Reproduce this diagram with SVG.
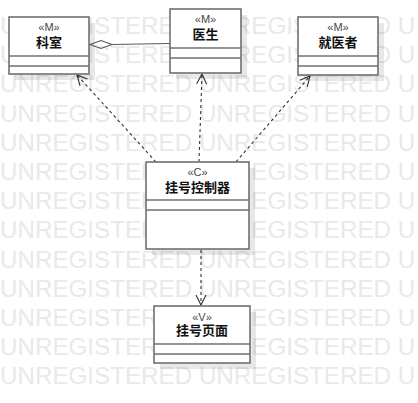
<svg xmlns="http://www.w3.org/2000/svg" width="418" height="403" viewBox="0 0 418 403">
<style>
.wm{font-family:"Liberation Sans",Arial,sans-serif;font-size:24.2px;fill:#e9e9e9}
.shadow{fill:#000;fill-opacity:0.09}
.box{fill:#fff;stroke:#707070;stroke-width:1.6}
.sep{stroke:#707070;stroke-width:1.6}
.st{font-family:"Liberation Sans","Noto Sans CJK SC",sans-serif;font-size:11px;fill:#444;text-anchor:middle}
.nm{font-family:"Liberation Sans","Noto Sans CJK SC",sans-serif;font-size:13px;font-weight:bold;fill:#111;text-anchor:middle}
.dep{fill:none;stroke:#333;stroke-width:1.1;stroke-dasharray:3 3}
.agg{fill:none;stroke:#555;stroke-width:1.1}
</style>
<defs>
<marker id="open" markerUnits="userSpaceOnUse" markerWidth="14" markerHeight="14" viewBox="-12 -7 14 14" refX="0" refY="0" orient="auto">
<path d="M -10 -5 L 0 0 L -10 5" fill="none" stroke="#333" stroke-width="1.1"/>
</marker>
</defs>
<rect width="418" height="403" fill="#fff"/>
<g id="watermark">
<text class="wm" x="0" y="34">UNREGISTERED UNREGISTERED U</text>
<text class="wm" x="0" y="63.2">UNREGISTERED UNREGISTERED U</text>
<text class="wm" x="0" y="92.4">UNREGISTERED UNREGISTERED U</text>
<text class="wm" x="0" y="121.6">UNREGISTERED UNREGISTERED U</text>
<text class="wm" x="0" y="150.8">UNREGISTERED UNREGISTERED U</text>
<text class="wm" x="0" y="180">UNREGISTERED UNREGISTERED U</text>
<text class="wm" x="0" y="209.2">UNREGISTERED UNREGISTERED U</text>
<text class="wm" x="0" y="238.4">UNREGISTERED UNREGISTERED U</text>
<text class="wm" x="0" y="267.6">UNREGISTERED UNREGISTERED U</text>
<text class="wm" x="0" y="296.8">UNREGISTERED UNREGISTERED U</text>
<text class="wm" x="0" y="326">UNREGISTERED UNREGISTERED U</text>
<text class="wm" x="0" y="355.2">UNREGISTERED UNREGISTERED U</text>
<text class="wm" x="0" y="384.4">UNREGISTERED UNREGISTERED U</text>
</g>
<g id="connectors">
<line class="dep" x1="156" y1="162" x2="77" y2="75" marker-end="url(#open)"/>
<line class="dep" x1="199" y1="162" x2="202" y2="74" marker-end="url(#open)"/>
<line class="dep" x1="236" y1="162" x2="310" y2="76" marker-end="url(#open)"/>
<line class="dep" x1="201" y1="250" x2="201" y2="305" marker-end="url(#open)"/>
<line class="agg" x1="112" y1="44.5" x2="170" y2="43.5"/>
<path class="agg" d="M 90 44.5 L 101 40.5 L 112 44.5 L 101 48.5 Z" fill="#fff"/>
</g>
<g id="keshi">
<rect class="shadow" x="15" y="23" width="80" height="57"/>
<rect class="box" x="9" y="17" width="80" height="57"/>
<line class="sep" x1="9" y1="56" x2="89" y2="56"/>
<line class="sep" x1="9" y1="66" x2="89" y2="66"/>
<text class="st" x="49" y="31">«M»</text>
<text class="nm" x="49" y="47">科室</text>
</g>
<g id="yisheng">
<rect class="shadow" x="176" y="15" width="71" height="64"/>
<rect class="box" x="170" y="9" width="71" height="64"/>
<line class="sep" x1="170" y1="48" x2="241" y2="48"/>
<line class="sep" x1="170" y1="58" x2="241" y2="58"/>
<text class="st" x="205.5" y="23">«M»</text>
<text class="nm" x="205.5" y="39">医生</text>
</g>
<g id="jiuyizhe">
<rect class="shadow" x="304" y="23" width="80" height="58"/>
<rect class="box" x="298" y="17" width="80" height="58"/>
<line class="sep" x1="298" y1="56" x2="378" y2="56"/>
<line class="sep" x1="298" y1="66" x2="378" y2="66"/>
<text class="st" x="338" y="31">«M»</text>
<text class="nm" x="338" y="47">就医者</text>
</g>
<g id="guahaokongzhiqi">
<rect class="shadow" x="152" y="168" width="103" height="87"/>
<rect class="box" x="146" y="162" width="103" height="87"/>
<line class="sep" x1="146" y1="200" x2="249" y2="200"/>
<line class="sep" x1="146" y1="210" x2="249" y2="210"/>
<text class="st" x="197.5" y="176">«C»</text>
<text class="nm" x="197.5" y="192">挂号控制器</text>
</g>
<g id="guahaoyemian">
<rect class="shadow" x="160" y="312" width="96" height="57"/>
<rect class="box" x="154" y="306" width="96" height="57"/>
<line class="sep" x1="154" y1="344" x2="250" y2="344"/>
<line class="sep" x1="154" y1="354" x2="250" y2="354"/>
<text class="st" x="202" y="321">«V»</text>
<text class="nm" x="202" y="335">挂号页面</text>
</g>
</svg>
